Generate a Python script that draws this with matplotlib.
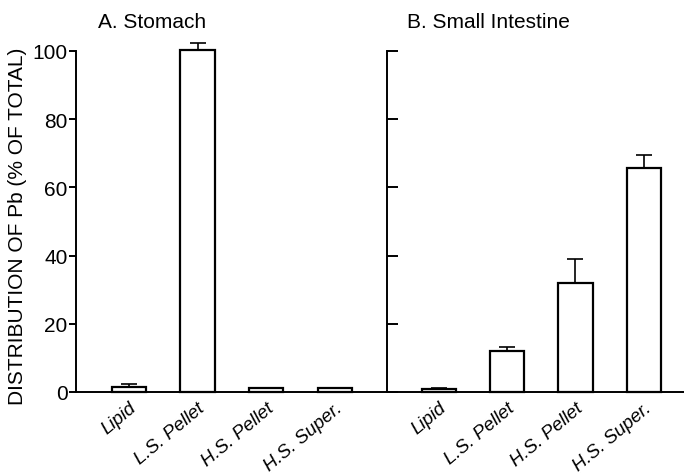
import matplotlib.pyplot as plt

categories = ['Lipid', 'L.S. Pellet', 'H.S. Pellet', 'H.S. Super.']

stomach = [1.5, 100.3, 1.3, 1.2]
stomach_err = [0.8, 2.0, 0.0, 0.0]

intestine = [0.8, 12.0, 32.0, 65.7]
intestine_err = [0.3, 1.3, 7.0, 3.8]

yticks = [0, 20, 40, 60, 80, 100]

plt.rcParams['font.family'] = ['Liberation Sans', 'DejaVu Sans']

fig = plt.figure(figsize=(6.84, 4.77), dpi=100)
W, H = 684.0, 477.0
axA = fig.add_axes([76 / W, 1 - 393 / H, (387 - 76) / W, (393 - 52) / H])
axB = fig.add_axes([387 / W, 1 - 393 / H, (684 - 387) / W, (393 - 52) / H])

x = range(len(categories))

for ax, vals, errs in [(axA, stomach, stomach_err), (axB, intestine, intestine_err)]:
    ax.bar(x, vals, width=0.5, color='white', edgecolor='black', linewidth=1.6,
           clip_on=False, zorder=3)
    ax.errorbar(x, vals, yerr=[[0] * len(errs), errs], fmt='none', ecolor='black',
                elinewidth=1.2, capsize=6, capthick=1.2, clip_on=False, zorder=2)
    ax.set_ylim(0, 100)
    ax.spines['top'].set_visible(False)
    ax.spines['right'].set_visible(False)
    ax.spines['left'].set_linewidth(1.4)
    ax.spines['bottom'].set_linewidth(1.4)
    ax.set_xticks(list(x))
    ax.set_xticklabels(categories, rotation=40, ha='right', va='top', style='italic',
                       fontsize=13.5, rotation_mode='anchor')
    ax.tick_params(axis='x', length=0, pad=5)
    ax.set_yticks(yticks)
    ax.patch.set_visible(False)

axA.set_xlim(-0.77, 3.76)
axB.set_xlim(-0.76, 3.59)

axA.tick_params(axis='y', direction='out', length=5, width=1.4, labelsize=15, pad=1)
axB.tick_params(axis='y', direction='in', length=8, width=1.4, labelleft=False)

fig.text(18 / W, 1 - 226 / H, 'DISTRIBUTION OF Pb (% OF TOTAL)', fontsize=15,
         rotation=90, ha='center', va='center')

fig.text(98 / W, 1 - 23 / H, 'A. Stomach', fontsize=15, va='center', ha='left')
fig.text(407 / W, 1 - 23 / H, 'B. Small Intestine', fontsize=15, va='center', ha='left')

fig.savefig('out.png', dpi=100)
